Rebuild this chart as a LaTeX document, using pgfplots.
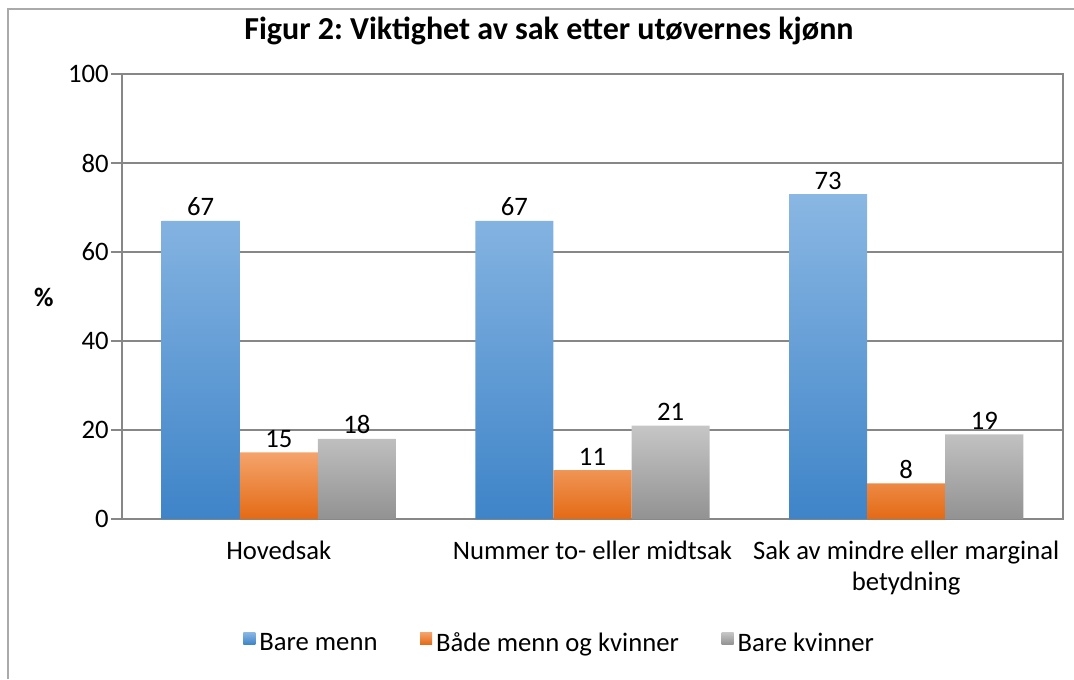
\documentclass[border=0pt]{standalone}
\usepackage{fontspec}
\setmainfont{Carlito}
\usepackage{pgfplots}
\pgfplotsset{compat=1.18}
\frenchspacing
\definecolor{bluetop}{HTML}{8AB7E3}
\definecolor{bluebot}{HTML}{3E84C8}
\definecolor{orangetop}{HTML}{F4A46C}
\definecolor{orangebot}{HTML}{E46A15}
\definecolor{graytop}{HTML}{C6C6C6}
\definecolor{graybot}{HTML}{929292}
\definecolor{axgray}{HTML}{878787}
\definecolor{framegray}{HTML}{AAAAAA}
\newcommand{\lblfont}{\fontsize{20}{23.5}\selectfont}
\begin{document}
\begin{tikzpicture}
\useasboundingbox (0,0) rectangle (805.5pt,509.25pt);
\draw[framegray, line width=1.5pt] (6pt,0pt) -- (6pt,502.5pt) -- (805.5pt,502.5pt);
\node[anchor=base, font=\fontsize{24}{28}\selectfont\bfseries] at (411.75pt,479.25pt) {Figur 2: Viktighet av sak etter utøvernes kjønn};
\begin{axis}[
  at={(91.5pt,120pt)}, anchor=south west,
  scale only axis, width=705.75pt, height=333.75pt,
  xmin=-0.5, xmax=2.5, ymin=0, ymax=100,
  ytick={0,20,40,60,80,100},
  ymajorgrids, grid style={axgray, line width=1pt},
  axis line style={axgray, line width=1pt},
  tick align=outside, tick pos=left,
  major tick length=8.25pt, minor tick length=8.25pt,
  tick style={axgray, line width=1pt},
  xtick={0,1,2},
  xticklabels={Hovedsak, Nummer to- eller midtsak, {Sak av mindre eller marginal\\betydning}},
  x tick style={draw=none},
  minor xtick={-0.5,0.5,1.5,2.5},
  xticklabel style={font=\lblfont, align=center, anchor=north, inner sep=0pt, yshift=-8pt},
  yticklabel style={font=\lblfont, inner sep=1.5pt},
  /pgf/number format/assume math mode=true,
  ylabel={\%},
  ylabel style={at={(rel axis cs:-0.083,0.497)}, rotate=-90, anchor=center, font=\lblfont\bfseries},
  nodes near coords,
  nodes near coords style={font=\lblfont, inner sep=0pt, anchor=south, yshift=3.5pt},
  legend columns=-1,
  legend style={at={(0.4655,-0.2787)}, anchor=center, draw=none, font=\lblfont,
    /tikz/every even column/.append style={column sep=30pt},
    /tikz/every odd column/.append style={column sep=1pt}},
  legend image code/.code={\path[#1] (0pt,-1pt) rectangle (9pt,8pt);},
]
\addplot[ybar, bar width=0.249, bar shift=0, draw=none, top color=bluetop, bottom color=bluebot]
  coordinates {(-0.249,67) (0.751,67) (1.751,73)};
\addplot[ybar, bar width=0.249, bar shift=0, draw=none, top color=orangetop, bottom color=orangebot]
  coordinates {(0,15) (1,11) (2,8)};
\addplot[ybar, bar width=0.249, bar shift=0, draw=none, top color=graytop, bottom color=graybot]
  coordinates {(0.249,18) (1.249,21) (2.249,19)};
\legend{Bare menn, Både menn og kvinner, Bare kvinner}
\end{axis}
\end{tikzpicture}
\end{document}
